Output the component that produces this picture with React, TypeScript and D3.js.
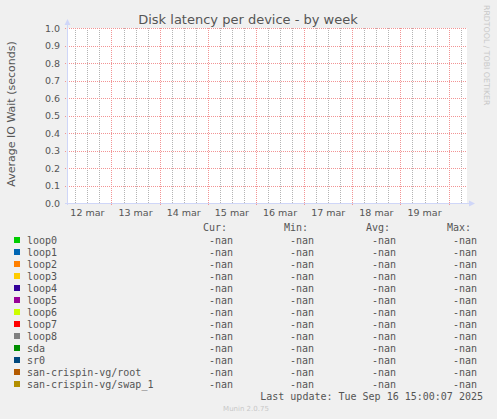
import React, { useEffect, useRef } from 'react';
import * as d3 from 'd3';

// chart data
const devices = [
  'loop0', 'loop1', 'loop2', 'loop3', 'loop4', 'loop5', 'loop6',
  'loop7', 'loop8', 'sda', 'sr0', 'san-crispin-vg/root', 'san-crispin-vg/swap_1',
];
const deviceColors = [
  '#00CC00', '#0066B3', '#FF8000', '#FFCC00', '#330099', '#990099', '#CCFF00',
  '#FF0000', '#808080', '#008F00', '#00487D', '#B35A00', '#B38F00',
];
const curValues = devices.map(() => '-nan');
const minValues = devices.map(() => '-nan');
const avgValues = devices.map(() => '-nan');
const maxValues = devices.map(() => '-nan');
const statHeaders = ['Cur:', 'Min:', 'Avg:', 'Max:'];
const yTicks = [0, 0.1, 0.2, 0.3, 0.4, 0.5, 0.6, 0.7, 0.8, 0.9, 1.0];
const timeStart = new Date(Date.UTC(2025, 2, 12, 1, 50));
const timeEnd = new Date(Date.UTC(2025, 2, 20, 9, 10));

const App: React.FC = () => {
  const svgRef = useRef<SVGSVGElement | null>(null);

  useEffect(() => {
    const svg = d3.select(svgRef.current);
    svg.selectAll('*').remove();
    const width = 497;
    const height = 419;
    const plot = { left: 67, right: 467, top: 28, bottom: 203 };
    const textColor = '#555';
    const sans = 'DejaVu Sans, sans-serif';
    const mono = 'DejaVu Sans Mono, monospace';

    svg.attr('width', width).attr('height', height);

    svg.append('rect').attr('width', width).attr('height', height).attr('fill', '#F0F0F0');
    svg.append('rect')
      .attr('x', plot.left).attr('y', plot.top)
      .attr('width', plot.right - plot.left).attr('height', plot.bottom - plot.top)
      .attr('fill', '#fff');

    const x = d3.scaleUtc().domain([timeStart, timeEnd]).range([plot.left, plot.right]);
    const y = d3.scaleLinear().domain([0, 1]).range([plot.bottom, plot.top]);

    const days = d3.utcDay.range(d3.utcDay.floor(timeStart), timeEnd);
    const majors = days.filter(d => d >= timeStart);
    // 6-hour minor lines between day lines
    const quarters: Date[] = [];
    days.forEach(d => {
      [6, 12, 18].forEach(h => {
        const t = d3.utcHour.offset(d, h);
        if (t > timeStart && t < timeEnd) quarters.push(t);
      });
    });

    const px = (d: Date) => Math.round(x(d)) + 0.5;

    // Minor vertical grid (6h)
    svg.append('g').selectAll('line')
      .data(quarters)
      .enter().append('line')
      .attr('x1', px).attr('x2', px)
      .attr('y1', plot.top).attr('y2', plot.bottom)
      .attr('stroke', '#b4b4b4').attr('stroke-dasharray', '1,1');

    // Major vertical grid (days)
    svg.append('g').selectAll('line')
      .data(majors)
      .enter().append('line')
      .attr('x1', px).attr('x2', px)
      .attr('y1', plot.top).attr('y2', plot.bottom + 2)
      .attr('stroke', '#f29494').attr('stroke-dasharray', '1,1');

    // Horizontal grid
    svg.append('g').selectAll('line')
      .data(yTicks.filter(d => d > 0))
      .enter().append('line')
      .attr('x1', plot.left - 2).attr('x2', plot.right)
      .attr('y1', d => Math.round(y(d)) + 0.5).attr('y2', d => Math.round(y(d)) + 0.5)
      .attr('stroke', '#f29494').attr('stroke-dasharray', '1,1');

    // Axes
    const axisColor = '#CFD6F8';
    svg.append('line')
      .attr('x1', plot.left + 0.5).attr('x2', plot.left + 0.5)
      .attr('y1', plot.top - 4).attr('y2', plot.bottom + 2)
      .attr('stroke', axisColor);
    svg.append('line')
      .attr('x1', plot.left - 2).attr('x2', plot.right + 3)
      .attr('y1', plot.bottom + 0.5).attr('y2', plot.bottom + 0.5)
      .attr('stroke', axisColor);
    svg.append('path')
      .attr('d', `M${plot.left - 2.5},${plot.top - 3} L${plot.left + 3.5},${plot.top - 3} L${plot.left + 0.5},${plot.top - 9} Z`)
      .attr('fill', axisColor);
    svg.append('path')
      .attr('d', `M${plot.right + 2},${plot.bottom - 2.5} L${plot.right + 2},${plot.bottom + 3.5} L${plot.right + 8},${plot.bottom + 0.5} Z`)
      .attr('fill', axisColor);

    // Y labels
    svg.append('g').selectAll('text')
      .data(yTicks)
      .enter().append('text')
      .attr('x', 60).attr('y', d => y(d) + 3.5)
      .attr('text-anchor', 'end')
      .attr('font-family', sans).attr('font-size', 9.5)
      .attr('fill', textColor)
      .text(d => d3.format('.1f')(d));

    // X labels at noon
    const fmt = d3.utcFormat('%d %b');
    svg.append('g').selectAll('text')
      .data(days.filter(d => x(d3.utcHour.offset(d, 12)) < plot.right - 15))
      .enter().append('text')
      .attr('x', d => x(d3.utcHour.offset(d, 12)))
      .attr('y', 216)
      .attr('text-anchor', 'middle')
      .attr('font-family', sans).attr('font-size', 9.5)
      .attr('fill', textColor)
      .text(d => fmt(d).toLowerCase());

    // Title
    svg.append('text')
      .attr('x', 248).attr('y', 24)
      .attr('text-anchor', 'middle')
      .attr('font-family', sans).attr('font-size', 13)
      .attr('fill', textColor)
      .text('Disk latency per device - by week');

    // Y axis title
    svg.append('text')
      .attr('transform', `translate(15,114) rotate(-90)`)
      .attr('text-anchor', 'middle')
      .attr('font-family', sans).attr('font-size', 11)
      .attr('fill', textColor)
      .text('Average IO Wait (seconds)');

    // Watermark
    svg.append('text')
      .attr('transform', `translate(484,5) rotate(90)`)
      .attr('text-anchor', 'start')
      .attr('font-family', sans).attr('font-size', 7.8)
      .attr('fill', '#c8c8c8')
      .text('RRDTOOL / TOBI OETIKER');

    // Legend
    const rowY = (i: number) => 240 + i * 12;
    const colEnds = [233, 314, 396, 477];
    const legend = svg.append('g').attr('font-family', mono).attr('font-size', 10).attr('fill', textColor);

    legend.selectAll('text.head')
      .data(statHeaders)
      .enter().append('text')
      .attr('x', (d, i) => colEnds[i] - 6).attr('y', 231)
      .attr('text-anchor', 'end')
      .text(d => d);

    const rows = legend.selectAll('g.row')
      .data(devices)
      .enter().append('g');

    rows.append('rect')
      .attr('x', 14).attr('y', (d, i) => rowY(i) - 3)
      .attr('width', 6).attr('height', 6)
      .attr('fill', (d, i) => deviceColors[i]);

    rows.append('text')
      .attr('x', 27).attr('y', (d, i) => rowY(i) + 3.5)
      .text(d => d);

    [curValues, minValues, avgValues, maxValues].forEach((vals, c) => {
      rows.append('text')
        .attr('x', colEnds[c]).attr('y', (d, i) => rowY(i) + 3.5)
        .attr('text-anchor', 'end')
        .text((d, i) => vals[i]);
    });

    legend.append('text')
      .attr('x', 483).attr('y', 399.5)
      .attr('text-anchor', 'end')
      .text('Last update: Tue Sep 16 15:00:07 2025');

    svg.append('text')
      .attr('x', 246).attr('y', 411)
      .attr('text-anchor', 'middle')
      .attr('font-family', sans).attr('font-size', 7)
      .attr('fill', '#c8c8c8')
      .text('Munin 2.0.75');
  }, []);

  return (
    <svg ref={svgRef} style={{ position: 'absolute', left: 0, top: 0 }}></svg>
  );
};

export default App;
